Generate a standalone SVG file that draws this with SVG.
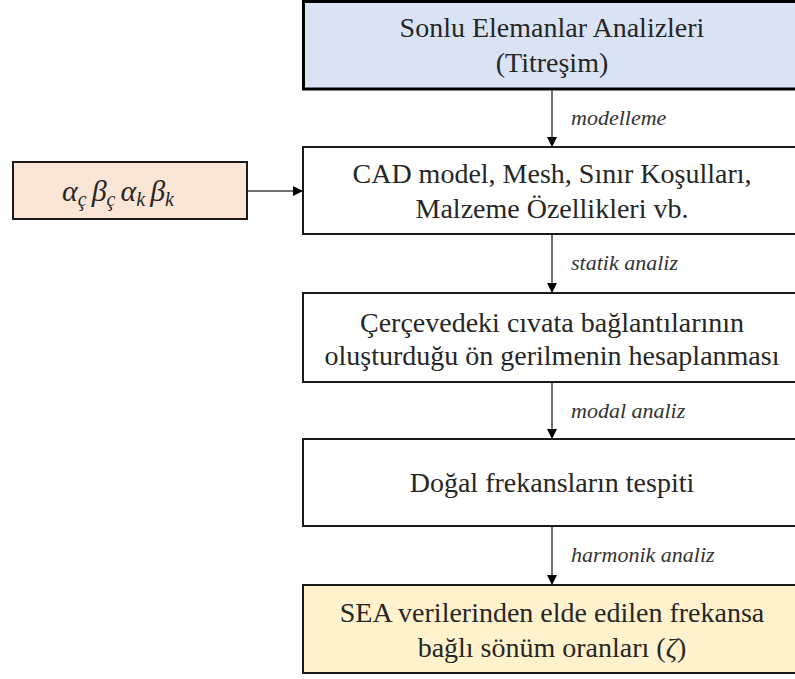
<svg xmlns="http://www.w3.org/2000/svg" width="795" height="679" viewBox="0 0 795 679">
<style>
.box{stroke:#1a1a1a;stroke-width:2}
.conn{stroke:#444;stroke-width:1.5;fill:none}
</style>
<defs>
<marker id="ah" viewBox="0 0 10 10" refX="10" refY="5" markerWidth="10" markerHeight="10" markerUnits="userSpaceOnUse" orient="auto">
<path d="M0,0 L10,5 L0,10 Z" fill="#000"/>
</marker>
</defs>
<rect width="795" height="679" fill="#fff"/>
<g id="connectors">
<line class="conn" x1="552" y1="90" x2="552" y2="147" marker-end="url(#ah)"/>
<line class="conn" x1="552" y1="235" x2="552" y2="293" marker-end="url(#ah)"/>
<line class="conn" x1="552" y1="383" x2="552" y2="439" marker-end="url(#ah)"/>
<line class="conn" x1="552" y1="527" x2="552" y2="585" marker-end="url(#ah)"/>
<line class="conn" x1="248" y1="191" x2="303" y2="191" marker-end="url(#ah)"/>
<text font-family="Liberation Serif" font-size="22" font-style="italic" fill="#333" x="571" y="125">modelleme</text>
<text font-family="Liberation Serif" font-size="22" font-style="italic" fill="#333" x="571" y="270">statik analiz</text>
<text font-family="Liberation Serif" font-size="22" font-style="italic" fill="#333" x="571" y="418">modal analiz</text>
<text font-family="Liberation Serif" font-size="22" font-style="italic" fill="#333" x="571" y="562">harmonik analiz</text>
</g>
<g id="node-fea">
<rect x="303.5" y="1.5" width="500" height="87.5" fill="#DAE3F3" stroke="#000" stroke-width="3"/>
<text font-family="Liberation Serif" font-size="28" fill="#262626" text-anchor="middle" x="552" y="37">Sonlu Elemanlar Analizleri</text>
<text font-family="Liberation Serif" font-size="28" fill="#262626" text-anchor="middle" x="552" y="72">(Titreşim)</text>
</g>
<g id="node-cad">
<rect class="box" x="303" y="147" width="500" height="87" fill="#fff"/>
<text font-family="Liberation Serif" font-size="28" fill="#262626" text-anchor="middle" x="552" y="183">CAD model, Mesh, Sınır Koşulları,</text>
<text font-family="Liberation Serif" font-size="28" fill="#262626" text-anchor="middle" x="552" y="218">Malzeme Özellikleri vb.</text>
</g>
<g id="node-civata">
<rect class="box" x="303" y="293" width="500" height="89" fill="#fff"/>
<text font-family="Liberation Serif" font-size="28" fill="#262626" text-anchor="middle" x="552" y="332">Çerçevedeki cıvata bağlantılarının</text>
<text font-family="Liberation Serif" font-size="28" fill="#262626" text-anchor="middle" x="552" y="365">oluşturduğu ön gerilmenin hesaplanması</text>
</g>
<g id="node-dogal">
<rect class="box" x="303" y="439" width="500" height="87" fill="#fff"/>
<text font-family="Liberation Serif" font-size="28" fill="#262626" text-anchor="middle" x="552" y="492">Doğal frekansların tespiti</text>
</g>
<g id="node-sea">
<rect class="box" x="303" y="585" width="500" height="88" fill="#FFF2CC"/>
<text font-family="Liberation Serif" font-size="28" fill="#262626" text-anchor="middle" x="552" y="622">SEA verilerinden elde edilen frekansa</text>
<text font-family="Liberation Serif" font-size="28" fill="#262626" text-anchor="middle" x="552" y="657">bağlı sönüm oranları (<tspan font-style="italic">ζ</tspan>)</text>
</g>
<g id="node-params">
<rect class="box" x="13" y="162" width="234" height="57" fill="#FBE5D6"/>
<text font-family="Liberation Serif" font-style="italic" fill="#262626" x="62" y="201" font-size="30"><tspan>α</tspan><tspan font-size="20" dy="5">ç</tspan><tspan dy="-5" dx="5">β</tspan><tspan font-size="20" dy="5">ç</tspan><tspan dy="-5" dx="5">α</tspan><tspan font-size="20" dy="5">k</tspan><tspan dy="-5" dx="5">β</tspan><tspan font-size="20" dy="5">k</tspan></text>
</g>
</svg>
